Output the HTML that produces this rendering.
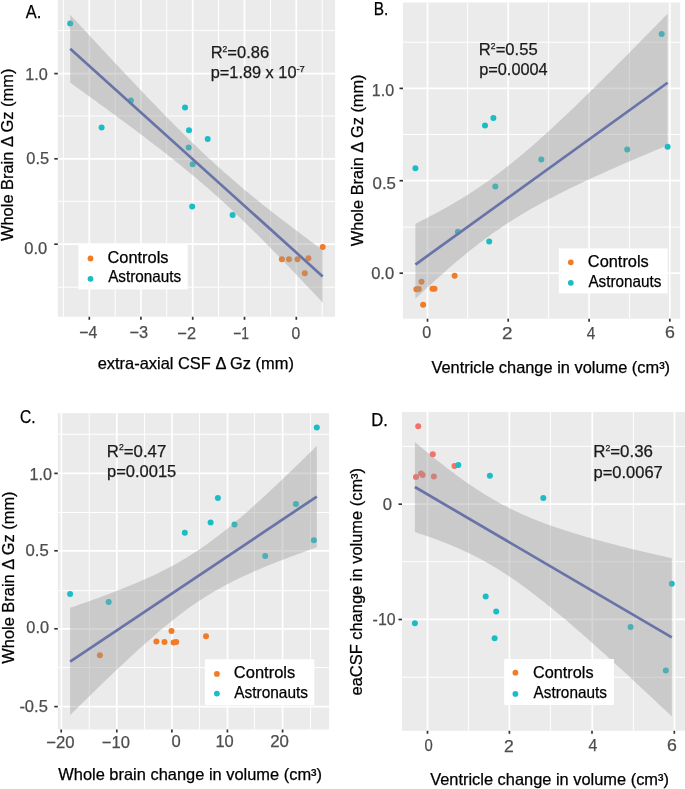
<!DOCTYPE html>
<html><head><meta charset="utf-8"><style>
html,body{margin:0;padding:0;background:#fff;}
svg{display:block;font-family:"Liberation Sans", sans-serif;will-change:transform;}
</style></head><body>
<svg width="685" height="789" viewBox="0 0 685 789">
<rect width="685" height="789" fill="#fff"/>
<clipPath id="cA"><rect x="57.8" y="0" width="277.30" height="316.80"/></clipPath>
<rect x="57.8" y="0" width="277.30" height="316.80" fill="#EBEBEB"/>
<g clip-path="url(#cA)">
<line x1="63.4" y1="0" x2="63.4" y2="316.8" stroke="#fff" stroke-width="1"/>
<line x1="115.2" y1="0" x2="115.2" y2="316.8" stroke="#fff" stroke-width="1"/>
<line x1="166.7" y1="0" x2="166.7" y2="316.8" stroke="#fff" stroke-width="1"/>
<line x1="218.5" y1="0" x2="218.5" y2="316.8" stroke="#fff" stroke-width="1"/>
<line x1="270.6" y1="0" x2="270.6" y2="316.8" stroke="#fff" stroke-width="1"/>
<line x1="322.2" y1="0" x2="322.2" y2="316.8" stroke="#fff" stroke-width="1"/>
<line x1="57.8" y1="30.6" x2="335.1" y2="30.6" stroke="#fff" stroke-width="1"/>
<line x1="57.8" y1="116.0" x2="335.1" y2="116.0" stroke="#fff" stroke-width="1"/>
<line x1="57.8" y1="201.4" x2="335.1" y2="201.4" stroke="#fff" stroke-width="1"/>
<line x1="57.8" y1="287.2" x2="335.1" y2="287.2" stroke="#fff" stroke-width="1"/>
<line x1="89.3" y1="0" x2="89.3" y2="316.8" stroke="#fff" stroke-width="1.7"/>
<line x1="140.9" y1="0" x2="140.9" y2="316.8" stroke="#fff" stroke-width="1.7"/>
<line x1="192.7" y1="0" x2="192.7" y2="316.8" stroke="#fff" stroke-width="1.7"/>
<line x1="244.5" y1="0" x2="244.5" y2="316.8" stroke="#fff" stroke-width="1.7"/>
<line x1="296.3" y1="0" x2="296.3" y2="316.8" stroke="#fff" stroke-width="1.7"/>
<line x1="57.8" y1="73.6" x2="335.1" y2="73.6" stroke="#fff" stroke-width="1.7"/>
<line x1="57.8" y1="158.8" x2="335.1" y2="158.8" stroke="#fff" stroke-width="1.7"/>
<line x1="57.8" y1="244.2" x2="335.1" y2="244.2" stroke="#fff" stroke-width="1.7"/>
<circle cx="322.7" cy="246.9" r="3" fill="#F07C28"/>
<circle cx="281.9" cy="259.2" r="3" fill="#F07C28"/>
<circle cx="289" cy="259.2" r="3" fill="#F07C28"/>
<circle cx="297.5" cy="259.2" r="3" fill="#F07C28"/>
<circle cx="308.4" cy="258.2" r="3" fill="#F07C28"/>
<circle cx="304.8" cy="273.2" r="3" fill="#F07C28"/>
<circle cx="70.2" cy="23.4" r="3" fill="#1BBDC5"/>
<circle cx="101.6" cy="127.6" r="3" fill="#1BBDC5"/>
<circle cx="130.9" cy="100.5" r="3" fill="#1BBDC5"/>
<circle cx="185" cy="107.6" r="3" fill="#1BBDC5"/>
<circle cx="189" cy="130.2" r="3" fill="#1BBDC5"/>
<circle cx="207.7" cy="139.1" r="3" fill="#1BBDC5"/>
<circle cx="188.7" cy="147.5" r="3" fill="#1BBDC5"/>
<circle cx="192.7" cy="164.3" r="3" fill="#1BBDC5"/>
<circle cx="192.2" cy="206.4" r="3" fill="#1BBDC5"/>
<circle cx="232.6" cy="215" r="3" fill="#1BBDC5"/>
<path d="M70.20,14.68 L73.40,18.14 L76.59,21.61 L79.79,25.07 L82.98,28.52 L86.18,31.98 L89.38,35.43 L92.57,38.87 L95.77,42.32 L98.97,45.76 L102.16,49.19 L105.36,52.62 L108.55,56.05 L111.75,59.47 L114.95,62.88 L118.14,66.29 L121.34,69.70 L124.54,73.10 L127.73,76.49 L130.93,79.87 L134.12,83.25 L137.32,86.61 L140.52,89.97 L143.71,93.32 L146.91,96.66 L150.11,99.99 L153.30,103.31 L156.50,106.62 L159.69,109.91 L162.89,113.19 L166.09,116.46 L169.28,119.71 L172.48,122.94 L175.67,126.16 L178.87,129.35 L182.07,132.53 L185.26,135.69 L188.46,138.83 L191.66,141.94 L194.85,145.03 L198.05,148.10 L201.24,151.14 L204.44,154.16 L207.64,157.15 L210.83,160.11 L214.03,163.05 L217.23,165.95 L220.42,168.83 L223.62,171.69 L226.81,174.51 L230.01,177.31 L233.21,180.08 L236.40,182.82 L239.60,185.54 L242.79,188.23 L245.99,190.90 L249.19,193.54 L252.38,196.17 L255.58,198.77 L258.78,201.35 L261.97,203.91 L265.17,206.46 L268.36,208.99 L271.56,211.50 L274.76,214.00 L277.95,216.48 L281.15,218.95 L284.35,221.41 L287.54,223.85 L290.74,226.28 L293.93,228.71 L297.13,231.12 L300.33,233.53 L303.52,235.92 L306.72,238.31 L309.92,240.69 L313.11,243.06 L316.31,245.43 L319.50,247.79 L322.70,250.14 L322.70,302.64 L319.50,299.23 L316.31,295.82 L313.11,292.42 L309.92,289.03 L306.72,285.65 L303.52,282.27 L300.33,278.90 L297.13,275.54 L293.93,272.19 L290.74,268.84 L287.54,265.51 L284.35,262.19 L281.15,258.88 L277.95,255.58 L274.76,252.30 L271.56,249.03 L268.36,245.78 L265.17,242.54 L261.97,239.32 L258.78,236.12 L255.58,232.93 L252.38,229.77 L249.19,226.63 L245.99,223.51 L242.79,220.41 L239.60,217.34 L236.40,214.29 L233.21,211.27 L230.01,208.27 L226.81,205.30 L223.62,202.36 L220.42,199.44 L217.23,196.56 L214.03,193.70 L210.83,190.87 L207.64,188.06 L204.44,185.29 L201.24,182.54 L198.05,179.82 L194.85,177.12 L191.66,174.44 L188.46,171.79 L185.26,169.16 L182.07,166.56 L178.87,163.97 L175.67,161.40 L172.48,158.85 L169.28,156.32 L166.09,153.80 L162.89,151.30 L159.69,148.82 L156.50,146.34 L153.30,143.88 L150.11,141.44 L146.91,139.00 L143.71,136.57 L140.52,134.16 L137.32,131.75 L134.12,129.35 L130.93,126.96 L127.73,124.58 L124.54,122.21 L121.34,119.84 L118.14,117.48 L114.95,115.12 L111.75,112.77 L108.55,110.43 L105.36,108.08 L102.16,105.75 L98.97,103.42 L95.77,101.09 L92.57,98.77 L89.38,96.45 L86.18,94.13 L82.98,91.82 L79.79,89.51 L76.59,87.21 L73.40,84.90 L70.20,82.60 Z" fill="#999999" fill-opacity="0.4"/>
<line x1="70.20" y1="48.64" x2="322.70" y2="276.39" stroke="#6874A8" stroke-width="2.7"/>
</g>
<line x1="89.3" y1="316.8" x2="89.3" y2="319.8" stroke="#333" stroke-width="1.7"/>
<line x1="140.9" y1="316.8" x2="140.9" y2="319.8" stroke="#333" stroke-width="1.7"/>
<line x1="192.7" y1="316.8" x2="192.7" y2="319.8" stroke="#333" stroke-width="1.7"/>
<line x1="244.5" y1="316.8" x2="244.5" y2="319.8" stroke="#333" stroke-width="1.7"/>
<line x1="296.3" y1="316.8" x2="296.3" y2="319.8" stroke="#333" stroke-width="1.7"/>
<line x1="54.3" y1="73.6" x2="57.8" y2="73.6" stroke="#333" stroke-width="1.7"/>
<line x1="54.3" y1="158.8" x2="57.8" y2="158.8" stroke="#333" stroke-width="1.7"/>
<line x1="54.3" y1="244.2" x2="57.8" y2="244.2" stroke="#333" stroke-width="1.7"/>
<rect x="78.5" y="244.5" width="109.20" height="44.90" fill="#fff"/>
<circle cx="90.5" cy="258.5" r="2.9" fill="#F07C28"/>
<circle cx="90.5" cy="278.8" r="2.9" fill="#1BBDC5"/>
<clipPath id="cB"><rect x="403" y="2.5" width="277.20" height="316.20"/></clipPath>
<rect x="403" y="2.5" width="277.20" height="316.20" fill="#EBEBEB"/>
<g clip-path="url(#cB)">
<line x1="467.7" y1="2.5" x2="467.7" y2="318.7" stroke="#fff" stroke-width="1"/>
<line x1="548.6" y1="2.5" x2="548.6" y2="318.7" stroke="#fff" stroke-width="1"/>
<line x1="629.4" y1="2.5" x2="629.4" y2="318.7" stroke="#fff" stroke-width="1"/>
<line x1="403" y1="42.2" x2="680.2" y2="42.2" stroke="#fff" stroke-width="1"/>
<line x1="403" y1="134.5" x2="680.2" y2="134.5" stroke="#fff" stroke-width="1"/>
<line x1="403" y1="227.1" x2="680.2" y2="227.1" stroke="#fff" stroke-width="1"/>
<line x1="427.5" y1="2.5" x2="427.5" y2="318.7" stroke="#fff" stroke-width="1.7"/>
<line x1="508.2" y1="2.5" x2="508.2" y2="318.7" stroke="#fff" stroke-width="1.7"/>
<line x1="589.1" y1="2.5" x2="589.1" y2="318.7" stroke="#fff" stroke-width="1.7"/>
<line x1="669.8" y1="2.5" x2="669.8" y2="318.7" stroke="#fff" stroke-width="1.7"/>
<line x1="403" y1="88.4" x2="680.2" y2="88.4" stroke="#fff" stroke-width="1.7"/>
<line x1="403" y1="180.7" x2="680.2" y2="180.7" stroke="#fff" stroke-width="1.7"/>
<line x1="403" y1="273.2" x2="680.2" y2="273.2" stroke="#fff" stroke-width="1.7"/>
<circle cx="454.6" cy="275.8" r="3" fill="#F07C28"/>
<circle cx="421.5" cy="281.8" r="3" fill="#F07C28"/>
<circle cx="416.4" cy="289.3" r="3" fill="#F07C28"/>
<circle cx="418.8" cy="289" r="3" fill="#F07C28"/>
<circle cx="432.5" cy="288.7" r="3" fill="#F07C28"/>
<circle cx="434.5" cy="288.7" r="3" fill="#F07C28"/>
<circle cx="423.1" cy="304.7" r="3" fill="#F07C28"/>
<circle cx="415.4" cy="168.3" r="3" fill="#1BBDC5"/>
<circle cx="485" cy="125.6" r="3" fill="#1BBDC5"/>
<circle cx="493.4" cy="117.9" r="3" fill="#1BBDC5"/>
<circle cx="541.3" cy="159.5" r="3" fill="#1BBDC5"/>
<circle cx="495.3" cy="186.5" r="3" fill="#1BBDC5"/>
<circle cx="489.2" cy="241.6" r="3" fill="#1BBDC5"/>
<circle cx="457.9" cy="231.7" r="3" fill="#1BBDC5"/>
<circle cx="661.7" cy="33.9" r="3" fill="#1BBDC5"/>
<circle cx="667.6" cy="146.7" r="3" fill="#1BBDC5"/>
<circle cx="627.2" cy="149.6" r="3" fill="#1BBDC5"/>
<path d="M415.40,223.71 L418.59,222.13 L421.78,220.52 L424.98,218.89 L428.17,217.25 L431.36,215.58 L434.55,213.89 L437.75,212.18 L440.94,210.44 L444.13,208.67 L447.32,206.88 L450.52,205.06 L453.71,203.21 L456.90,201.33 L460.09,199.41 L463.29,197.46 L466.48,195.47 L469.67,193.45 L472.86,191.39 L476.06,189.29 L479.25,187.15 L482.44,184.97 L485.63,182.75 L488.83,180.49 L492.02,178.19 L495.21,175.85 L498.40,173.46 L501.59,171.04 L504.79,168.57 L507.98,166.06 L511.17,163.52 L514.36,160.94 L517.56,158.32 L520.75,155.67 L523.94,152.98 L527.13,150.26 L530.33,147.50 L533.52,144.72 L536.71,141.91 L539.90,139.07 L543.10,136.20 L546.29,133.31 L549.48,130.40 L552.67,127.46 L555.87,124.51 L559.06,121.53 L562.25,118.53 L565.44,115.52 L568.64,112.49 L571.83,109.44 L575.02,106.38 L578.21,103.30 L581.41,100.21 L584.60,97.11 L587.79,94.00 L590.98,90.87 L594.17,87.74 L597.37,84.59 L600.56,81.44 L603.75,78.27 L606.94,75.10 L610.14,71.92 L613.33,68.73 L616.52,65.54 L619.71,62.34 L622.91,59.13 L626.10,55.91 L629.29,52.69 L632.48,49.47 L635.68,46.24 L638.87,43.00 L642.06,39.76 L645.25,36.51 L648.45,33.26 L651.64,30.01 L654.83,26.75 L658.02,23.49 L661.22,20.22 L664.41,16.95 L667.60,13.68 L667.60,145.24 L664.41,146.57 L661.22,147.91 L658.02,149.24 L654.83,150.58 L651.64,151.93 L648.45,153.28 L645.25,154.63 L642.06,155.98 L638.87,157.35 L635.68,158.71 L632.48,160.08 L629.29,161.46 L626.10,162.84 L622.91,164.23 L619.71,165.62 L616.52,167.02 L613.33,168.43 L610.14,169.84 L606.94,171.26 L603.75,172.69 L600.56,174.13 L597.37,175.58 L594.17,177.04 L590.98,178.50 L587.79,179.98 L584.60,181.47 L581.41,182.97 L578.21,184.48 L575.02,186.01 L571.83,187.55 L568.64,189.11 L565.44,190.68 L562.25,192.26 L559.06,193.87 L555.87,195.50 L552.67,197.14 L549.48,198.81 L546.29,200.49 L543.10,202.21 L539.90,203.94 L536.71,205.71 L533.52,207.50 L530.33,209.31 L527.13,211.16 L523.94,213.04 L520.75,214.96 L517.56,216.91 L514.36,218.89 L511.17,220.91 L507.98,222.97 L504.79,225.06 L501.59,227.20 L498.40,229.38 L495.21,231.59 L492.02,233.85 L488.83,236.15 L485.63,238.49 L482.44,240.88 L479.25,243.30 L476.06,245.76 L472.86,248.26 L469.67,250.81 L466.48,253.39 L463.29,256.00 L460.09,258.65 L456.90,261.34 L453.71,264.06 L450.52,266.81 L447.32,269.59 L444.13,272.40 L440.94,275.24 L437.75,278.10 L434.55,280.99 L431.36,283.91 L428.17,286.84 L424.98,289.80 L421.78,292.77 L418.59,295.77 L415.40,298.78 Z" fill="#999999" fill-opacity="0.4"/>
<line x1="415.40" y1="264.55" x2="667.60" y2="82.76" stroke="#6874A8" stroke-width="2.7"/>
</g>
<line x1="427.5" y1="318.7" x2="427.5" y2="321.7" stroke="#333" stroke-width="1.7"/>
<line x1="508.2" y1="318.7" x2="508.2" y2="321.7" stroke="#333" stroke-width="1.7"/>
<line x1="589.1" y1="318.7" x2="589.1" y2="321.7" stroke="#333" stroke-width="1.7"/>
<line x1="669.8" y1="318.7" x2="669.8" y2="321.7" stroke="#333" stroke-width="1.7"/>
<line x1="399.5" y1="88.4" x2="403" y2="88.4" stroke="#333" stroke-width="1.7"/>
<line x1="399.5" y1="180.7" x2="403" y2="180.7" stroke="#333" stroke-width="1.7"/>
<line x1="399.5" y1="273.2" x2="403" y2="273.2" stroke="#333" stroke-width="1.7"/>
<rect x="558.8" y="248.4" width="108.80" height="45.00" fill="#fff"/>
<circle cx="570.8" cy="262.3" r="2.9" fill="#F07C28"/>
<circle cx="570.8" cy="282.8" r="2.9" fill="#1BBDC5"/>
<clipPath id="cC"><rect x="57.8" y="413.1" width="271.30" height="316.40"/></clipPath>
<rect x="57.8" y="413.1" width="271.30" height="316.40" fill="#EBEBEB"/>
<g clip-path="url(#cC)">
<line x1="89.3" y1="413.1" x2="89.3" y2="729.5" stroke="#fff" stroke-width="1"/>
<line x1="144.6" y1="413.1" x2="144.6" y2="729.5" stroke="#fff" stroke-width="1"/>
<line x1="199.6" y1="413.1" x2="199.6" y2="729.5" stroke="#fff" stroke-width="1"/>
<line x1="254.4" y1="413.1" x2="254.4" y2="729.5" stroke="#fff" stroke-width="1"/>
<line x1="310.6" y1="413.1" x2="310.6" y2="729.5" stroke="#fff" stroke-width="1"/>
<line x1="57.8" y1="434.2" x2="329.1" y2="434.2" stroke="#fff" stroke-width="1"/>
<line x1="57.8" y1="512.5" x2="329.1" y2="512.5" stroke="#fff" stroke-width="1"/>
<line x1="57.8" y1="590.7" x2="329.1" y2="590.7" stroke="#fff" stroke-width="1"/>
<line x1="57.8" y1="667.6" x2="329.1" y2="667.6" stroke="#fff" stroke-width="1"/>
<line x1="61.4" y1="413.1" x2="61.4" y2="729.5" stroke="#fff" stroke-width="1.7"/>
<line x1="116.8" y1="413.1" x2="116.8" y2="729.5" stroke="#fff" stroke-width="1.7"/>
<line x1="172.0" y1="413.1" x2="172.0" y2="729.5" stroke="#fff" stroke-width="1.7"/>
<line x1="227.5" y1="413.1" x2="227.5" y2="729.5" stroke="#fff" stroke-width="1.7"/>
<line x1="282.6" y1="413.1" x2="282.6" y2="729.5" stroke="#fff" stroke-width="1.7"/>
<line x1="57.8" y1="473.4" x2="329.1" y2="473.4" stroke="#fff" stroke-width="1.7"/>
<line x1="57.8" y1="550.8" x2="329.1" y2="550.8" stroke="#fff" stroke-width="1.7"/>
<line x1="57.8" y1="628.8" x2="329.1" y2="628.8" stroke="#fff" stroke-width="1.7"/>
<line x1="57.8" y1="706.6" x2="329.1" y2="706.6" stroke="#fff" stroke-width="1.7"/>
<circle cx="99.9" cy="655.2" r="3" fill="#F07C28"/>
<circle cx="171.5" cy="631" r="3" fill="#F07C28"/>
<circle cx="156.4" cy="641.5" r="3" fill="#F07C28"/>
<circle cx="164.5" cy="642.1" r="3" fill="#F07C28"/>
<circle cx="173.6" cy="642.4" r="3" fill="#F07C28"/>
<circle cx="176.2" cy="642.1" r="3" fill="#F07C28"/>
<circle cx="206" cy="636.3" r="3" fill="#F07C28"/>
<circle cx="70.1" cy="593.9" r="3" fill="#1BBDC5"/>
<circle cx="108.7" cy="602" r="3" fill="#1BBDC5"/>
<circle cx="184.8" cy="532.8" r="3" fill="#1BBDC5"/>
<circle cx="210.6" cy="522.4" r="3" fill="#1BBDC5"/>
<circle cx="217.9" cy="497.9" r="3" fill="#1BBDC5"/>
<circle cx="234.5" cy="524.6" r="3" fill="#1BBDC5"/>
<circle cx="265.2" cy="556" r="3" fill="#1BBDC5"/>
<circle cx="295.9" cy="504.1" r="3" fill="#1BBDC5"/>
<circle cx="313.9" cy="540.3" r="3" fill="#1BBDC5"/>
<circle cx="316.8" cy="427.5" r="3" fill="#1BBDC5"/>
<path d="M70.10,607.85 L73.22,606.77 L76.35,605.68 L79.47,604.59 L82.59,603.49 L85.71,602.39 L88.84,601.27 L91.96,600.15 L95.08,599.02 L98.21,597.88 L101.33,596.74 L104.45,595.58 L107.57,594.41 L110.70,593.23 L113.82,592.03 L116.94,590.83 L120.06,589.60 L123.19,588.37 L126.31,587.11 L129.43,585.84 L132.56,584.55 L135.68,583.24 L138.80,581.91 L141.92,580.56 L145.05,579.18 L148.17,577.78 L151.29,576.35 L154.42,574.89 L157.54,573.39 L160.66,571.87 L163.78,570.31 L166.91,568.71 L170.03,567.07 L173.15,565.39 L176.27,563.67 L179.40,561.90 L182.52,560.09 L185.64,558.23 L188.77,556.32 L191.89,554.36 L195.01,552.35 L198.13,550.28 L201.26,548.17 L204.38,546.00 L207.50,543.78 L210.63,541.51 L213.75,539.20 L216.87,536.83 L219.99,534.42 L223.12,531.97 L226.24,529.47 L229.36,526.93 L232.48,524.35 L235.61,521.73 L238.73,519.08 L241.85,516.39 L244.98,513.68 L248.10,510.93 L251.22,508.16 L254.34,505.36 L257.47,502.54 L260.59,499.69 L263.71,496.82 L266.84,493.93 L269.96,491.03 L273.08,488.11 L276.20,485.17 L279.33,482.21 L282.45,479.24 L285.57,476.26 L288.69,473.27 L291.82,470.26 L294.94,467.24 L298.06,464.21 L301.19,461.18 L304.31,458.13 L307.43,455.08 L310.55,452.01 L313.68,448.94 L316.80,445.87 L316.80,547.35 L313.68,548.45 L310.55,549.55 L307.43,550.66 L304.31,551.78 L301.19,552.91 L298.06,554.05 L294.94,555.20 L291.82,556.36 L288.69,557.53 L285.57,558.71 L282.45,559.90 L279.33,561.11 L276.20,562.33 L273.08,563.56 L269.96,564.81 L266.84,566.08 L263.71,567.37 L260.59,568.68 L257.47,570.01 L254.34,571.36 L251.22,572.74 L248.10,574.14 L244.98,575.57 L241.85,577.03 L238.73,578.52 L235.61,580.04 L232.48,581.60 L229.36,583.19 L226.24,584.83 L223.12,586.50 L219.99,588.22 L216.87,589.99 L213.75,591.80 L210.63,593.66 L207.50,595.56 L204.38,597.52 L201.26,599.53 L198.13,601.59 L195.01,603.70 L191.89,605.86 L188.77,608.08 L185.64,610.34 L182.52,612.66 L179.40,615.02 L176.27,617.43 L173.15,619.88 L170.03,622.38 L166.91,624.91 L163.78,627.49 L160.66,630.10 L157.54,632.75 L154.42,635.44 L151.29,638.15 L148.17,640.90 L145.05,643.67 L141.92,646.46 L138.80,649.29 L135.68,652.13 L132.56,655.00 L129.43,657.88 L126.31,660.79 L123.19,663.71 L120.06,666.65 L116.94,669.60 L113.82,672.57 L110.70,675.55 L107.57,678.54 L104.45,681.55 L101.33,684.57 L98.21,687.59 L95.08,690.63 L91.96,693.68 L88.84,696.73 L85.71,699.79 L82.59,702.86 L79.47,705.94 L76.35,709.02 L73.22,712.11 L70.10,715.21 Z" fill="#999999" fill-opacity="0.4"/>
<line x1="70.10" y1="661.53" x2="316.80" y2="496.61" stroke="#6874A8" stroke-width="2.7"/>
</g>
<line x1="61.2" y1="729.5" x2="61.2" y2="732.5" stroke="#333" stroke-width="1.7"/>
<line x1="116.8" y1="729.5" x2="116.8" y2="732.5" stroke="#333" stroke-width="1.7"/>
<line x1="171.9" y1="729.5" x2="171.9" y2="732.5" stroke="#333" stroke-width="1.7"/>
<line x1="227.4" y1="729.5" x2="227.4" y2="732.5" stroke="#333" stroke-width="1.7"/>
<line x1="282.6" y1="729.5" x2="282.6" y2="732.5" stroke="#333" stroke-width="1.7"/>
<line x1="54.3" y1="473.4" x2="57.8" y2="473.4" stroke="#333" stroke-width="1.7"/>
<line x1="54.3" y1="550.8" x2="57.8" y2="550.8" stroke="#333" stroke-width="1.7"/>
<line x1="54.3" y1="628.8" x2="57.8" y2="628.8" stroke="#333" stroke-width="1.7"/>
<line x1="54.3" y1="706.6" x2="57.8" y2="706.6" stroke="#333" stroke-width="1.7"/>
<rect x="204.9" y="659.2" width="109.40" height="45.80" fill="#fff"/>
<circle cx="216.9" cy="673.9" r="2.9" fill="#F07C28"/>
<circle cx="216.9" cy="693.6" r="2.9" fill="#1BBDC5"/>
<clipPath id="cD"><rect x="402" y="412" width="283.00" height="318.80"/></clipPath>
<rect x="402" y="412" width="283.00" height="318.80" fill="#EBEBEB"/>
<g clip-path="url(#cD)">
<line x1="468.6" y1="412" x2="468.6" y2="730.8" stroke="#fff" stroke-width="1"/>
<line x1="550.4" y1="412" x2="550.4" y2="730.8" stroke="#fff" stroke-width="1"/>
<line x1="633.4" y1="412" x2="633.4" y2="730.8" stroke="#fff" stroke-width="1"/>
<line x1="402" y1="446.4" x2="685" y2="446.4" stroke="#fff" stroke-width="1"/>
<line x1="402" y1="561.7" x2="685" y2="561.7" stroke="#fff" stroke-width="1"/>
<line x1="402" y1="677.3" x2="685" y2="677.3" stroke="#fff" stroke-width="1"/>
<line x1="427.5" y1="412" x2="427.5" y2="730.8" stroke="#fff" stroke-width="1.7"/>
<line x1="509.4" y1="412" x2="509.4" y2="730.8" stroke="#fff" stroke-width="1.7"/>
<line x1="592.3" y1="412" x2="592.3" y2="730.8" stroke="#fff" stroke-width="1.7"/>
<line x1="674.5" y1="412" x2="674.5" y2="730.8" stroke="#fff" stroke-width="1.7"/>
<line x1="402" y1="504.2" x2="685" y2="504.2" stroke="#fff" stroke-width="1.7"/>
<line x1="402" y1="619.4" x2="685" y2="619.4" stroke="#fff" stroke-width="1.7"/>
<circle cx="418.2" cy="426.3" r="3" fill="#F3726A"/>
<circle cx="432.8" cy="454.3" r="3" fill="#F3726A"/>
<circle cx="454.5" cy="466.1" r="3" fill="#F3726A"/>
<circle cx="416" cy="477.1" r="3" fill="#F3726A"/>
<circle cx="421" cy="473.4" r="3" fill="#F3726A"/>
<circle cx="422.6" cy="475" r="3" fill="#F3726A"/>
<circle cx="433.9" cy="476.4" r="3" fill="#F3726A"/>
<circle cx="458.3" cy="465" r="3" fill="#1BBDC5"/>
<circle cx="489.9" cy="475.8" r="3" fill="#1BBDC5"/>
<circle cx="543.3" cy="498" r="3" fill="#1BBDC5"/>
<circle cx="414.9" cy="623.2" r="3" fill="#1BBDC5"/>
<circle cx="485.7" cy="596.4" r="3" fill="#1BBDC5"/>
<circle cx="496.2" cy="611.6" r="3" fill="#1BBDC5"/>
<circle cx="494.6" cy="638.3" r="3" fill="#1BBDC5"/>
<circle cx="630.6" cy="627" r="3" fill="#1BBDC5"/>
<circle cx="665.8" cy="670.6" r="3" fill="#1BBDC5"/>
<circle cx="671.8" cy="583.7" r="3" fill="#1BBDC5"/>
<path d="M414.90,441.93 L418.15,444.69 L421.40,447.42 L424.66,450.14 L427.91,452.83 L431.16,455.49 L434.41,458.13 L437.66,460.74 L440.92,463.31 L444.17,465.86 L447.42,468.38 L450.67,470.86 L453.92,473.30 L457.17,475.70 L460.43,478.07 L463.68,480.39 L466.93,482.67 L470.18,484.91 L473.43,487.10 L476.69,489.25 L479.94,491.35 L483.19,493.40 L486.44,495.40 L489.69,497.35 L492.95,499.25 L496.20,501.10 L499.45,502.90 L502.70,504.65 L505.95,506.36 L509.21,508.02 L512.46,509.63 L515.71,511.19 L518.96,512.71 L522.21,514.19 L525.46,515.63 L528.72,517.03 L531.97,518.39 L535.22,519.71 L538.47,521.00 L541.72,522.26 L544.98,523.48 L548.23,524.68 L551.48,525.84 L554.73,526.98 L557.98,528.10 L561.24,529.19 L564.49,530.26 L567.74,531.30 L570.99,532.33 L574.24,533.34 L577.49,534.33 L580.75,535.30 L584.00,536.25 L587.25,537.20 L590.50,538.12 L593.75,539.04 L597.01,539.94 L600.26,540.83 L603.51,541.70 L606.76,542.57 L610.01,543.43 L613.27,544.27 L616.52,545.11 L619.77,545.94 L623.02,546.76 L626.27,547.57 L629.53,548.38 L632.78,549.18 L636.03,549.97 L639.28,550.76 L642.53,551.54 L645.78,552.31 L649.04,553.08 L652.29,553.84 L655.54,554.60 L658.79,555.35 L662.04,556.10 L665.30,556.85 L668.55,557.59 L671.80,558.32 L671.80,716.40 L668.55,713.33 L665.30,710.27 L662.04,707.20 L658.79,704.15 L655.54,701.09 L652.29,698.05 L649.04,695.00 L645.78,691.96 L642.53,688.93 L639.28,685.91 L636.03,682.89 L632.78,679.87 L629.53,676.86 L626.27,673.86 L623.02,670.87 L619.77,667.88 L616.52,664.91 L613.27,661.94 L610.01,658.98 L606.76,656.03 L603.51,653.09 L600.26,650.16 L597.01,647.24 L593.75,644.34 L590.50,641.45 L587.25,638.57 L584.00,635.70 L580.75,632.85 L577.49,630.02 L574.24,627.20 L570.99,624.40 L567.74,621.62 L564.49,618.86 L561.24,616.12 L557.98,613.41 L554.73,610.72 L551.48,608.05 L548.23,605.41 L544.98,602.80 L541.72,600.22 L538.47,597.67 L535.22,595.15 L531.97,592.67 L528.72,590.22 L525.46,587.82 L522.21,585.45 L518.96,583.12 L515.71,580.83 L512.46,578.59 L509.21,576.40 L505.95,574.25 L502.70,572.15 L499.45,570.09 L496.20,568.09 L492.95,566.13 L489.69,564.23 L486.44,562.37 L483.19,560.57 L479.94,558.81 L476.69,557.10 L473.43,555.44 L470.18,553.83 L466.93,552.26 L463.68,550.73 L460.43,549.25 L457.17,547.81 L453.92,546.41 L450.67,545.04 L447.42,543.72 L444.17,542.43 L440.92,541.17 L437.66,539.94 L434.41,538.74 L431.16,537.57 L427.91,536.43 L424.66,535.31 L421.40,534.22 L418.15,533.15 L414.90,532.10 Z" fill="#999999" fill-opacity="0.4"/>
<line x1="414.90" y1="487.02" x2="671.80" y2="637.36" stroke="#6874A8" stroke-width="2.7"/>
</g>
<line x1="427.5" y1="730.8" x2="427.5" y2="733.8" stroke="#333" stroke-width="1.7"/>
<line x1="509.4" y1="730.8" x2="509.4" y2="733.8" stroke="#333" stroke-width="1.7"/>
<line x1="592.0" y1="730.8" x2="592.0" y2="733.8" stroke="#333" stroke-width="1.7"/>
<line x1="674.3" y1="730.8" x2="674.3" y2="733.8" stroke="#333" stroke-width="1.7"/>
<line x1="398.5" y1="504.2" x2="402" y2="504.2" stroke="#333" stroke-width="1.7"/>
<line x1="398.5" y1="619.5" x2="402" y2="619.5" stroke="#333" stroke-width="1.7"/>
<rect x="504.2" y="659" width="109.70" height="46.00" fill="#fff"/>
<circle cx="515.4" cy="672.7" r="2.9" fill="#F07C28"/>
<circle cx="515.4" cy="693.9" r="2.9" fill="#1BBDC5"/>
<text id="A_let" x="25.78" y="17.75" font-size="18.3" fill="#000" stroke="#000" stroke-width="0.25" textLength="15.51" lengthAdjust="spacingAndGlyphs">A.</text>
<text id="A_y1" x="25.25" y="79.77" font-size="16.6" fill="#4D4D4D" stroke="#4D4D4D" stroke-width="0.25" textLength="22.63" lengthAdjust="spacingAndGlyphs">1.0</text>
<text id="A_y05" x="26.28" y="164.47" font-size="16.6" fill="#4D4D4D" stroke="#4D4D4D" stroke-width="0.25" textLength="22.80" lengthAdjust="spacingAndGlyphs">0.5</text>
<text id="A_y0" x="24.29" y="253.87" font-size="16.6" fill="#4D4D4D" stroke="#4D4D4D" stroke-width="0.25" textLength="23.00" lengthAdjust="spacingAndGlyphs">0.0</text>
<text id="A_xm4" x="79.33" y="338.13" font-size="16.6" fill="#4D4D4D" stroke="#4D4D4D" stroke-width="0.25" textLength="18.08" lengthAdjust="spacingAndGlyphs">−4</text>
<text id="A_xm3" x="129.39" y="338.05" font-size="16.6" fill="#4D4D4D" stroke="#4D4D4D" stroke-width="0.25" textLength="18.62" lengthAdjust="spacingAndGlyphs">−3</text>
<text id="A_xm2" x="177.30" y="338.78" font-size="16.6" fill="#4D4D4D" stroke="#4D4D4D" stroke-width="0.25" textLength="18.74" lengthAdjust="spacingAndGlyphs">−2</text>
<text id="A_xm1" x="233.15" y="338.55" font-size="16.6" fill="#4D4D4D" stroke="#4D4D4D" stroke-width="0.25" textLength="15.72" lengthAdjust="spacingAndGlyphs">−1</text>
<text id="A_x0" x="291.38" y="339.20" font-size="16.6" fill="#4D4D4D" stroke="#4D4D4D" stroke-width="0.25" textLength="8.74" lengthAdjust="spacingAndGlyphs">0</text>
<text id="A_xt" x="97.66" y="368.57" font-size="16.5" fill="#000" stroke="#000" stroke-width="0.25" textLength="196.28" lengthAdjust="spacingAndGlyphs">extra-axial CSF Δ Gz (mm)</text>
<text id="A_yt" transform="translate(12.60,241.00) rotate(-90)" x="0" y="0" font-size="16.5" fill="#000" stroke="#000" stroke-width="0.25" textLength="172.38" lengthAdjust="spacingAndGlyphs">Whole Brain Δ Gz (mm)</text>
<text id="A_r2" x="210.65" y="58.10" font-size="16.5" fill="#1a1a1a" stroke="#1a1a1a" stroke-width="0.25" textLength="58.43" lengthAdjust="spacingAndGlyphs">R<tspan font-size="8.5" dy="-6.2">2</tspan><tspan dy="6.2">=0.86</tspan></text>
<text id="A_p" x="210.69" y="77.73" font-size="16.5" fill="#1a1a1a" stroke="#1a1a1a" stroke-width="0.25" textLength="94.14" lengthAdjust="spacingAndGlyphs">p=1.89 x 10<tspan font-size="9.5" dy="-5.8">-7</tspan></text>
<text id="A_lc" x="107.49" y="262.68" font-size="16.5" fill="#000" stroke="#000" stroke-width="0.25" textLength="61.04" lengthAdjust="spacingAndGlyphs">Controls</text>
<text id="A_la" x="108.13" y="282.12" font-size="16.5" fill="#000" stroke="#000" stroke-width="0.25" textLength="73.09" lengthAdjust="spacingAndGlyphs">Astronauts</text>
<text id="B_let" x="373.63" y="15.33" font-size="18.3" fill="#000" stroke="#000" stroke-width="0.25" textLength="14.58" lengthAdjust="spacingAndGlyphs">B.</text>
<text id="B_y1" x="371.76" y="95.70" font-size="16.6" fill="#4D4D4D" stroke="#4D4D4D" stroke-width="0.25" textLength="22.33" lengthAdjust="spacingAndGlyphs">1.0</text>
<text id="B_y05" x="372.53" y="189.00" font-size="16.6" fill="#4D4D4D" stroke="#4D4D4D" stroke-width="0.25" textLength="23.41" lengthAdjust="spacingAndGlyphs">0.5</text>
<text id="B_y0" x="371.13" y="278.54" font-size="16.6" fill="#4D4D4D" stroke="#4D4D4D" stroke-width="0.25" textLength="23.01" lengthAdjust="spacingAndGlyphs">0.0</text>
<text id="B_x0" x="422.31" y="338.35" font-size="16.6" fill="#4D4D4D" stroke="#4D4D4D" stroke-width="0.25" textLength="8.96" lengthAdjust="spacingAndGlyphs">0</text>
<text id="B_x2" x="502.07" y="338.74" font-size="16.6" fill="#4D4D4D" stroke="#4D4D4D" stroke-width="0.25" textLength="10.49" lengthAdjust="spacingAndGlyphs">2</text>
<text id="B_x4" x="586.87" y="338.80" font-size="16.6" fill="#4D4D4D" stroke="#4D4D4D" stroke-width="0.25" textLength="8.55" lengthAdjust="spacingAndGlyphs">4</text>
<text id="B_x6" x="665.08" y="337.98" font-size="16.6" fill="#4D4D4D" stroke="#4D4D4D" stroke-width="0.25" textLength="9.90" lengthAdjust="spacingAndGlyphs">6</text>
<text id="B_xt" x="431.43" y="372.70" font-size="16.5" fill="#000" stroke="#000" stroke-width="0.25" textLength="238.64" lengthAdjust="spacingAndGlyphs">Ventricle change in volume (cm³)</text>
<text id="B_yt" transform="translate(362.73,246.26) rotate(-90)" x="0" y="0" font-size="16.5" fill="#000" stroke="#000" stroke-width="0.25" textLength="171.79" lengthAdjust="spacingAndGlyphs">Whole Brain Δ Gz (mm)</text>
<text id="B_r2" x="478.88" y="54.86" font-size="16.5" fill="#1a1a1a" stroke="#1a1a1a" stroke-width="0.25" textLength="58.78" lengthAdjust="spacingAndGlyphs">R<tspan font-size="8.5" dy="-6.2">2</tspan><tspan dy="6.2">=0.55</tspan></text>
<text id="B_p" x="479.17" y="74.57" font-size="16.5" fill="#1a1a1a" stroke="#1a1a1a" stroke-width="0.25" textLength="68.55" lengthAdjust="spacingAndGlyphs">p=0.0004</text>
<text id="B_lc" x="587.82" y="266.74" font-size="16.5" fill="#000" stroke="#000" stroke-width="0.25" textLength="60.97" lengthAdjust="spacingAndGlyphs">Controls</text>
<text id="B_la" x="588.40" y="287.28" font-size="16.5" fill="#000" stroke="#000" stroke-width="0.25" textLength="73.08" lengthAdjust="spacingAndGlyphs">Astronauts</text>
<text id="C_let" x="19.98" y="423.42" font-size="18.3" fill="#000" stroke="#000" stroke-width="0.25" textLength="15.53" lengthAdjust="spacingAndGlyphs">C.</text>
<text id="C_y1" x="29.42" y="480.08" font-size="16.6" fill="#4D4D4D" stroke="#4D4D4D" stroke-width="0.25" textLength="22.51" lengthAdjust="spacingAndGlyphs">1.0</text>
<text id="C_y05" x="25.53" y="555.98" font-size="16.6" fill="#4D4D4D" stroke="#4D4D4D" stroke-width="0.25" textLength="23.23" lengthAdjust="spacingAndGlyphs">0.5</text>
<text id="C_y0" x="26.35" y="633.43" font-size="16.6" fill="#4D4D4D" stroke="#4D4D4D" stroke-width="0.25" textLength="22.71" lengthAdjust="spacingAndGlyphs">0.0</text>
<text id="C_ym05" x="19.39" y="711.93" font-size="16.6" fill="#4D4D4D" stroke="#4D4D4D" stroke-width="0.25" textLength="28.45" lengthAdjust="spacingAndGlyphs">-0.5</text>
<text id="C_xm20" x="46.31" y="747.88" font-size="16.6" fill="#4D4D4D" stroke="#4D4D4D" stroke-width="0.25" textLength="28.37" lengthAdjust="spacingAndGlyphs">−20</text>
<text id="C_xm10" x="101.85" y="747.58" font-size="16.6" fill="#4D4D4D" stroke="#4D4D4D" stroke-width="0.25" textLength="28.11" lengthAdjust="spacingAndGlyphs">−10</text>
<text id="C_x0" x="171.60" y="747.04" font-size="16.6" fill="#4D4D4D" stroke="#4D4D4D" stroke-width="0.25" textLength="9.23" lengthAdjust="spacingAndGlyphs">0</text>
<text id="C_x10" x="215.45" y="747.33" font-size="16.6" fill="#4D4D4D" stroke="#4D4D4D" stroke-width="0.25" textLength="18.35" lengthAdjust="spacingAndGlyphs">10</text>
<text id="C_x20" x="270.23" y="747.42" font-size="16.6" fill="#4D4D4D" stroke="#4D4D4D" stroke-width="0.25" textLength="18.72" lengthAdjust="spacingAndGlyphs">20</text>
<text id="C_xt" x="58.25" y="780.26" font-size="16.5" fill="#000" stroke="#000" stroke-width="0.25" textLength="263.79" lengthAdjust="spacingAndGlyphs">Whole brain change in volume (cm³)</text>
<text id="C_yt" transform="translate(14.46,663.68) rotate(-90)" x="0" y="0" font-size="16.5" fill="#000" stroke="#000" stroke-width="0.25" textLength="172.27" lengthAdjust="spacingAndGlyphs">Whole Brain Δ Gz (mm)</text>
<text id="C_r2" x="106.86" y="456.55" font-size="16.5" fill="#1a1a1a" stroke="#1a1a1a" stroke-width="0.25" textLength="59.38" lengthAdjust="spacingAndGlyphs">R<tspan font-size="8.5" dy="-6.2">2</tspan><tspan dy="6.2">=0.47</tspan></text>
<text id="C_p" x="107.00" y="476.85" font-size="16.5" fill="#1a1a1a" stroke="#1a1a1a" stroke-width="0.25" textLength="69.29" lengthAdjust="spacingAndGlyphs">p=0.0015</text>
<text id="C_lc" x="233.87" y="678.17" font-size="16.5" fill="#000" stroke="#000" stroke-width="0.25" textLength="61.40" lengthAdjust="spacingAndGlyphs">Controls</text>
<text id="C_la" x="234.31" y="698.37" font-size="16.5" fill="#000" stroke="#000" stroke-width="0.25" textLength="73.71" lengthAdjust="spacingAndGlyphs">Astronauts</text>
<text id="D_let" x="371.31" y="425.83" font-size="18.3" fill="#000" stroke="#000" stroke-width="0.25" textLength="16.54" lengthAdjust="spacingAndGlyphs">D.</text>
<text id="D_y0" x="382.89" y="510.49" font-size="16.6" fill="#4D4D4D" stroke="#4D4D4D" stroke-width="0.25" textLength="9.28" lengthAdjust="spacingAndGlyphs">0</text>
<text id="D_ym10" x="372.61" y="625.29" font-size="16.6" fill="#4D4D4D" stroke="#4D4D4D" stroke-width="0.25" textLength="22.96" lengthAdjust="spacingAndGlyphs">-10</text>
<text id="D_x0" x="424.46" y="751.33" font-size="16.6" fill="#4D4D4D" stroke="#4D4D4D" stroke-width="0.25" textLength="8.26" lengthAdjust="spacingAndGlyphs">0</text>
<text id="D_x2" x="504.06" y="751.80" font-size="16.6" fill="#4D4D4D" stroke="#4D4D4D" stroke-width="0.25" textLength="9.79" lengthAdjust="spacingAndGlyphs">2</text>
<text id="D_x4" x="588.48" y="750.64" font-size="16.6" fill="#4D4D4D" stroke="#4D4D4D" stroke-width="0.25" textLength="8.83" lengthAdjust="spacingAndGlyphs">4</text>
<text id="D_x6" x="667.09" y="750.77" font-size="16.6" fill="#4D4D4D" stroke="#4D4D4D" stroke-width="0.25" textLength="9.87" lengthAdjust="spacingAndGlyphs">6</text>
<text id="D_xt" x="430.13" y="785.16" font-size="16.5" fill="#000" stroke="#000" stroke-width="0.25" textLength="238.82" lengthAdjust="spacingAndGlyphs">Ventricle change in volume (cm³)</text>
<text id="D_yt" transform="translate(362.34,695.41) rotate(-90)" x="0" y="0" font-size="16.5" fill="#000" stroke="#000" stroke-width="0.25" textLength="227.46" lengthAdjust="spacingAndGlyphs">eaCSF change in volume (cm³)</text>
<text id="D_r2" x="593.27" y="457.18" font-size="16.5" fill="#1a1a1a" stroke="#1a1a1a" stroke-width="0.25" textLength="59.66" lengthAdjust="spacingAndGlyphs">R<tspan font-size="8.5" dy="-6.2">2</tspan><tspan dy="6.2">=0.36</tspan></text>
<text id="D_p" x="593.50" y="477.55" font-size="16.5" fill="#1a1a1a" stroke="#1a1a1a" stroke-width="0.25" textLength="69.29" lengthAdjust="spacingAndGlyphs">p=0.0067</text>
<text id="D_lc" x="532.96" y="678.16" font-size="16.5" fill="#000" stroke="#000" stroke-width="0.25" textLength="60.61" lengthAdjust="spacingAndGlyphs">Controls</text>
<text id="D_la" x="533.58" y="697.74" font-size="16.5" fill="#000" stroke="#000" stroke-width="0.25" textLength="73.33" lengthAdjust="spacingAndGlyphs">Astronauts</text>
</svg>
</body></html>
